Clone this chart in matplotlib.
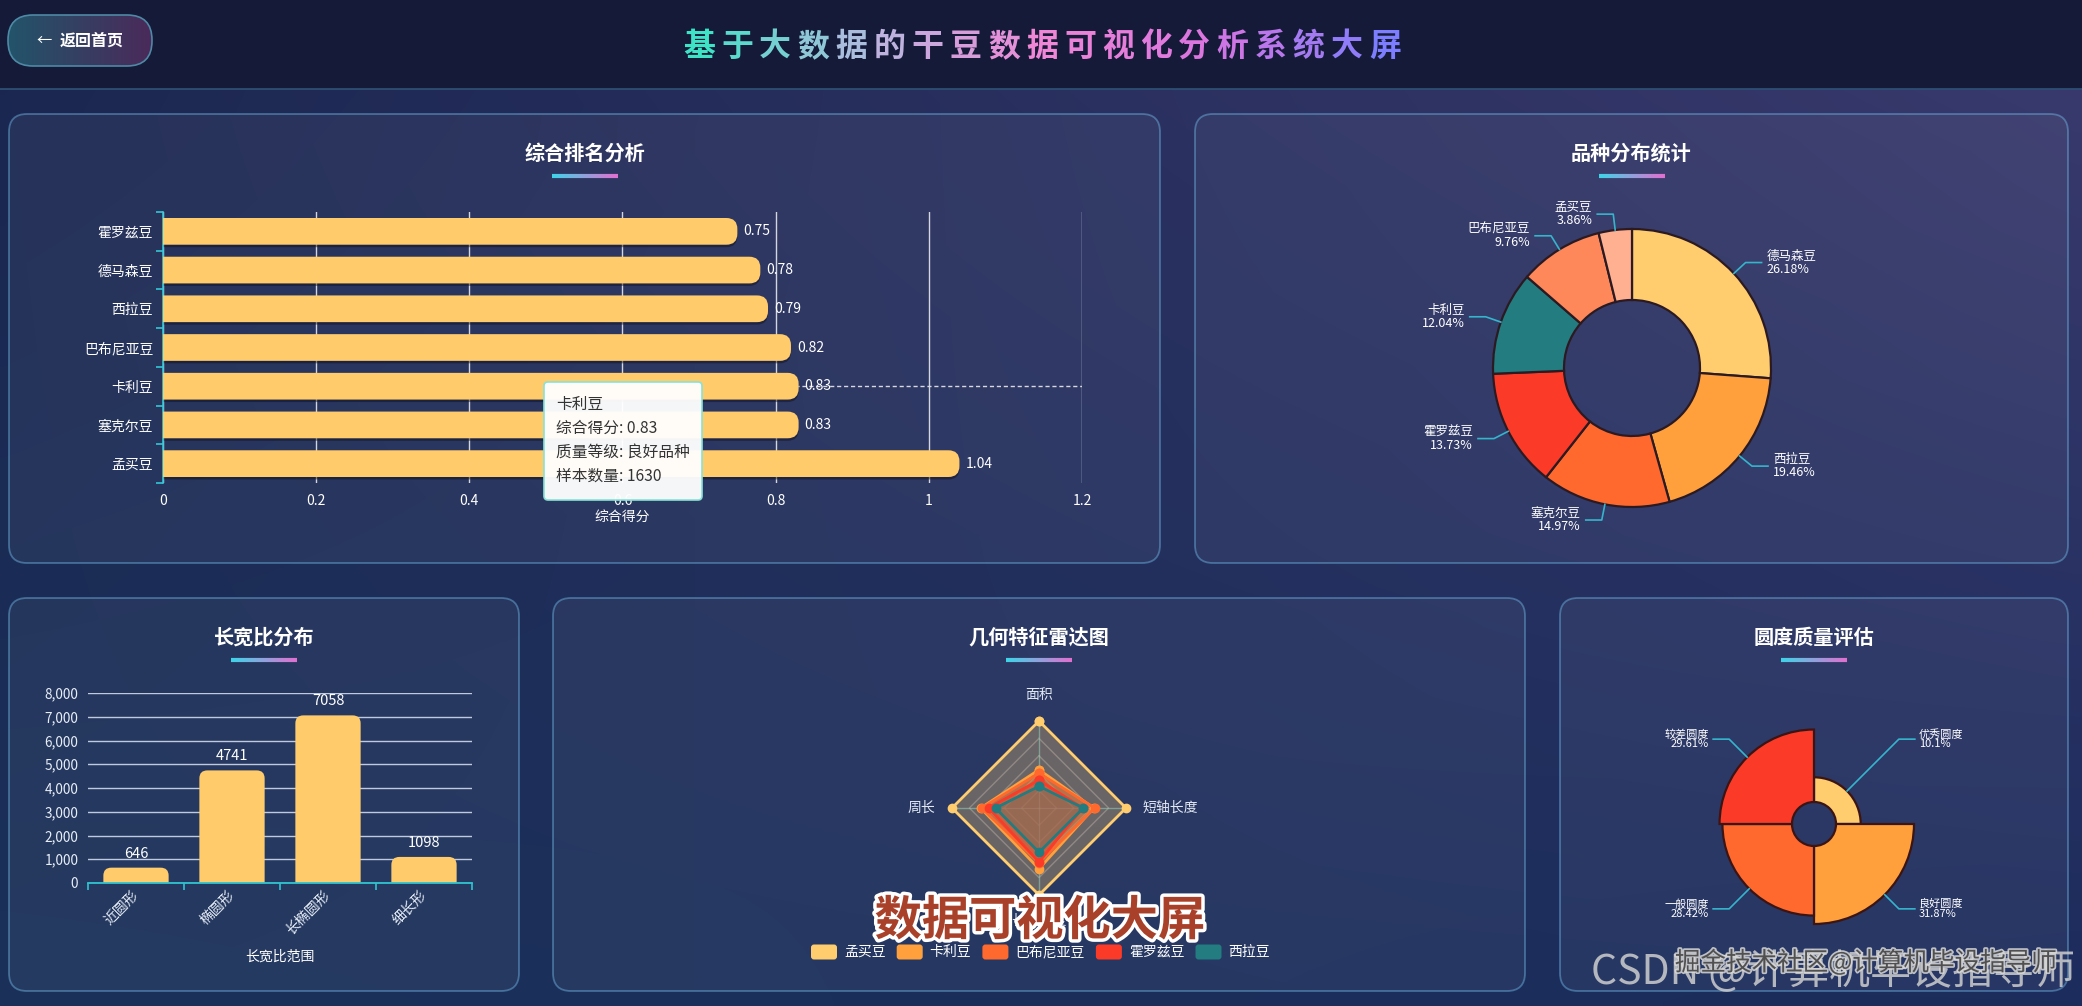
import numpy as np
import matplotlib
matplotlib.use('Agg')
import matplotlib.pyplot as plt
from matplotlib.patches import FancyBboxPatch, Wedge, Rectangle
from matplotlib.collections import LineCollection
from matplotlib.colors import LinearSegmentedColormap, to_rgb
import matplotlib.patheffects as pe

plt.rcParams['font.family'] = ['Noto Sans CJK SC', 'DejaVu Sans']
plt.rcParams['axes.unicode_minus'] = False

# ---------------- data ----------------
main_title = '基于大数据的干豆数据可视化分析系统大屏'
back_label = '返回首页'

rank_title = '综合排名分析'
rank_varieties = ['霍罗兹豆', '德马森豆', '西拉豆', '巴布尼亚豆', '卡利豆', '塞克尔豆', '孟买豆']
rank_scores = [0.75, 0.78, 0.79, 0.82, 0.83, 0.83, 1.04]
rank_xticks = [0, 0.2, 0.4, 0.6, 0.8, 1, 1.2]
rank_xlabel = '综合得分'
tooltip_lines = ['卡利豆', '综合得分: 0.83', '质量等级: 良好品种', '样本数量: 1630']
tooltip_index = 4

dist_title = '品种分布统计'
dist_names = ['德马森豆', '西拉豆', '塞克尔豆', '霍罗兹豆', '卡利豆', '巴布尼亚豆', '孟买豆']
dist_pct = [26.18, 19.46, 14.97, 13.73, 12.04, 9.76, 3.86]
dist_colors = ['#FFCC6E', '#FFA03C', '#FF692D', '#FB3A28', '#237C80', '#FF885A', '#FFB091']

ratio_title = '长宽比分布'
ratio_cats = ['近圆形', '椭圆形', '长椭圆形', '细长形']
ratio_counts = [646, 4741, 7058, 1098]
ratio_yticks = [0, 1000, 2000, 3000, 4000, 5000, 6000, 7000, 8000]
ratio_xlabel = '长宽比范围'

radar_title = '几何特征雷达图'
radar_indicators = ['面积', '周长', '长轴长度', '短轴长度']
radar_names = ['孟买豆', '卡利豆', '巴布尼亚豆', '霍罗兹豆', '西拉豆']
radar_mengmai = [1.00, 1.00, 1.00, 1.00]
radar_kali = [0.44, 0.67, 0.70, 0.63]
radar_babuniya = [0.40, 0.66, 0.63, 0.64]
radar_huoluozi = [0.32, 0.58, 0.62, 0.50]
radar_xila = [0.25, 0.50, 0.51, 0.51]
radar_colors = ['#FFCC6E', '#FFA03C', '#FF692D', '#FB3A28', '#237C80']

round_title = '圆度质量评估'
round_names = ['优秀圆度', '良好圆度', '一般圆度', '较差圆度']
round_pct = [10.1, 31.87, 28.42, 29.61]
round_colors = ['#FFCC6E', '#FFA03C', '#FF692D', '#FB3A28']

overlay_caption = '数据可视化大屏'
wm_csdn = 'CSDN @计算机毕设指导师'
wm_juejin = '掘金技术社区@计算机毕设指导师'

# ---------------- layout helpers ----------------
W, H = 2082, 1006
fig = plt.figure(figsize=(W / 100, H / 100), dpi=100)
fig.patch.set_facecolor('#141a37')


def rect(x0, y0, x1, y1):
    return [x0 / W, 1 - y1 / H, (x1 - x0) / W, (y1 - y0) / H]


bg = fig.add_axes([0, 0, 1, 1])
bg.set_xlim(0, W)
bg.set_ylim(H, 0)
bg.axis('off')

# body gradient
ny, nx = 120, 240
yy, xx = np.mgrid[0:1:ny * 1j, 0:1:nx * 1j]
TL, TR, BL, BR = [np.array(to_rgb(c)) for c in ['#1b2650', '#3b3a6e', '#1a3159', '#1c2c5c']]
img = (TL * ((1 - xx) * (1 - yy))[..., None] + TR * (xx * (1 - yy))[..., None]
       + BL * ((1 - xx) * yy)[..., None] + BR * (xx * yy)[..., None])
bg.imshow(img, extent=[0, W, H, 0], aspect='auto', zorder=0, interpolation='bilinear')

# header
bg.add_patch(Rectangle((0, 0), W, 89, fc='#141a37', ec='none', zorder=1))
bg.plot([0, W], [89, 89], color='#2e4f72', lw=1.3, zorder=2)

# back button
btn = FancyBboxPatch((8, 15), 144, 51, boxstyle='round,pad=0,rounding_size=25',
                     fc='none', ec='#4e89a5', lw=1.2, zorder=4)
bg.add_patch(btn)
gx = np.linspace(0, 1, 100)[None, :, None]
bimg = np.array(to_rgb('#22546a')) * (1 - gx) + np.array(to_rgb('#4a2a5a')) * gx
bim = bg.imshow(np.repeat(bimg, 2, axis=0), extent=[8, 152, 66, 15], aspect='auto', zorder=3)
bim.set_clip_path(btn)
bg.text(44, 40, '←', ha='center', va='center', fontsize=11, color='white', zorder=5)
bg.text(60, 40.5, back_label, ha='left', va='center', fontsize=11.5, color='white',
        fontweight='bold', zorder=5)

# main title with per-character gradient
tcmap = LinearSegmentedColormap.from_list('t', ['#3ee3c6', '#b9b8e0', '#ef86d6', '#d874e0', '#7c7eff'])
n_chars = len(main_title)
step = 38.1
x_start = 680
for i, ch in enumerate(main_title):
    bg.text(x_start + step * (i + 0.5), 47, ch, ha='center', va='center', fontsize=23,
            fontweight='bold', color=tcmap(i / (n_chars - 1)), zorder=5)

# panels
panels = [(9, 114, 1160, 563), (1195, 114, 2068, 563), (9, 598, 519, 991),
          (553, 598, 1525, 991), (1560, 598, 2068, 991)]
ptitles = [rank_title, dist_title, ratio_title, radar_title, round_title]
ucmap = LinearSegmentedColormap.from_list('u', ['#3fd3e8', '#e070d0'])
for (x0, y0, x1, y1), t in zip(panels, ptitles):
    bg.add_patch(FancyBboxPatch((x0, y0), x1 - x0, y1 - y0,
                                boxstyle='round,pad=0,rounding_size=18',
                                fc=(1, 1, 1, 0.05), ec=(0.42, 0.68, 0.85, 0.5), lw=1.3, zorder=2))
    cx = (x0 + x1) / 2
    bg.text(cx, y0 + 39, t, ha='center', va='center', fontsize=14.5, fontweight='bold',
            color='white', zorder=5)
    xs = np.linspace(cx - 33, cx + 33, 40)
    segs = [[(xs[k], y0 + 62), (xs[k + 1], y0 + 62)] for k in range(len(xs) - 1)]
    bg.add_collection(LineCollection(segs, colors=ucmap(np.linspace(0, 1, len(segs))),
                                     linewidths=3, zorder=5))

# ---------------- panel 1: ranking bars ----------------
ax1 = fig.add_axes(rect(163, 212, 1082, 483))
ax1.set_facecolor('none')
n = len(rank_varieties)
ax1.set_xlim(rank_xticks[0], rank_xticks[-1])
ax1.set_ylim(n - 0.5, -0.5)
pxx = (1082 - 163) / (rank_xticks[-1] - rank_xticks[0])
pxy = (483 - 212) / n
bh = 0.69
rad = 11
ma = pxx / pxy
ax1.axhline(tooltip_index, color='#d8d8e0', lw=1, ls=(0, (3, 2)), zorder=1.6)
for i, v in enumerate(rank_scores):
    ax1.add_patch(FancyBboxPatch((-0.05, i - bh / 2 + 2.5 / pxy), v + 0.05, bh,
                                 boxstyle=f'round,pad=0,rounding_size={rad / pxx}',
                                 mutation_aspect=ma, fc=(0.05, 0.05, 0.1, 0.45), ec='none', zorder=2))
    ax1.add_patch(FancyBboxPatch((-0.05, i - bh / 2), v + 0.05, bh,
                                 boxstyle=f'round,pad=0,rounding_size={rad / pxx}',
                                 mutation_aspect=ma, fc='#FFCB6B', ec='none', zorder=3))
    ax1.text(v + 6 / pxx, i, f'{v:.2f}', ha='left', va='center', fontsize=10, color='white', zorder=4)
ax1.set_yticks(range(n))
ax1.set_yticklabels(rank_varieties)
ax1.set_yticks(np.arange(-0.5, n, 1), minor=True)
ax1.set_xticks(rank_xticks)
ax1.set_xticklabels([f'{t:g}' for t in rank_xticks])
ax1.grid(axis='x', color='white', lw=1, alpha=0.8)
ax1.tick_params(axis='y', which='major', length=0, labelsize=10, labelcolor='white', pad=7)
ax1.tick_params(axis='y', which='minor', length=5, color='#33c6d6', width=1.2)
ax1.tick_params(axis='x', length=0, labelsize=10, labelcolor='white', pad=8)
for s in ['top', 'right', 'bottom']:
    ax1.spines[s].set_visible(False)
ax1.spines['left'].set_color('#33c6d6')
ax1.spines['left'].set_linewidth(1.2)
ax1.set_xlabel(rank_xlabel, color='white', fontsize=10)
ax1.xaxis.set_label_coords(0.5, -(517 - 483) / (483 - 212))
ax1.xaxis.label.set_va('center')

# ---------------- panel 2: donut ----------------
cx2, cy2 = 1632, 368
ax2 = fig.add_axes(rect(cx2 - 200, cy2 - 200, cx2 + 200, cy2 + 200))
R2, w2 = 139, 71
wedges, _ = ax2.pie(dist_pct, radius=R2, startangle=90, counterclock=False, colors=dist_colors,
                    wedgeprops=dict(width=w2, edgecolor='#2b1a22', linewidth=1.6))
ax2.set_xlim(-200, 200)
ax2.set_ylim(-200, 200)
ax2.set_aspect('equal')
ax2.axis('off')
for wd, name, p in zip(wedges, dist_names, dist_pct):
    ang = np.deg2rad((wd.theta1 + wd.theta2) / 2)
    c, s = np.cos(ang), np.sin(ang)
    sgn = 1 if c >= 0 else -1
    p0 = (R2 * c, R2 * s)
    p1 = ((R2 + 16) * c, (R2 + 16) * s)
    p2 = (p1[0] + 16 * sgn, p1[1])
    ax2.plot([p0[0], p1[0], p2[0]], [p0[1], p1[1], p2[1]], color='#35b5cc', lw=1.2, clip_on=False)
    ax2.text(p2[0] + 5 * sgn, p2[1], f'{name}\n{p}%', ha='left' if sgn > 0 else 'right',
             va='center', fontsize=9, color='white', linespacing=1.0)

# ---------------- panel 3: aspect ratio bars ----------------
ax3 = fig.add_axes(rect(88, 693, 472, 883))
ax3.set_facecolor('none')
m = len(ratio_cats)
ax3.set_xlim(-0.5, m - 0.5)
ax3.set_ylim(ratio_yticks[0], ratio_yticks[-1])
ux = (472 - 88) / m
uy = (883 - 693) / (ratio_yticks[-1] - ratio_yticks[0])
bw = 0.68
rad3 = 8
yr = rad3 / uy
for i, v in enumerate(ratio_counts):
    ax3.add_patch(FancyBboxPatch((i - bw / 2, -yr), bw, v + yr,
                                 boxstyle=f'round,pad=0,rounding_size={rad3 / ux}',
                                 mutation_aspect=ux / uy, fc='#FFCB6B', ec='none', zorder=3))
    ax3.annotate(str(v), (i, v), xytext=(0, 5), textcoords='offset points', ha='center',
                 va='bottom', fontsize=10.5, color='white')
ax3.set_yticks(ratio_yticks)
ax3.set_yticklabels([f'{t:,}' for t in ratio_yticks])
ax3.set_xticks(range(m))
ax3.set_xticklabels(ratio_cats, rotation=45, ha='right', va='center', rotation_mode='anchor')
ax3.set_xticks(np.arange(-0.5, m, 1), minor=True)
ax3.grid(axis='y', color='#dbe5f5', lw=1, alpha=0.85)
ax3.tick_params(axis='y', length=0, labelsize=9.8, labelcolor='#e8eef8', pad=7)
ax3.tick_params(axis='x', which='major', length=0, labelsize=10, labelcolor='#e8eef8', pad=7)
ax3.tick_params(axis='x', which='minor', length=5, color='#2ec4d0', width=1.2)
for s in ['top', 'right', 'left']:
    ax3.spines[s].set_visible(False)
ax3.spines['bottom'].set_color('#2ec4d0')
ax3.spines['bottom'].set_linewidth(1.3)
ax3.spines['bottom'].set_zorder(4)
ax3.set_xlabel(ratio_xlabel, color='white', fontsize=10)
ax3.xaxis.set_label_coords(0.5, -(957 - 883) / (883 - 693))
ax3.xaxis.label.set_va('center')

# ---------------- panel 4: radar ----------------
cx4, cy4, R4 = 1039, 808, 87
ax4 = fig.add_axes(rect(cx4 - R4, cy4 - R4, cx4 + R4, cy4 + R4), projection='polar')
ax4.set_ylim(0, 1)
ax4.axis('off')
angles = np.deg2rad([90, 180, 270, 360])
th = np.r_[angles, angles[0]]
for lev in [0.2, 0.4, 0.6, 0.8, 1.0]:
    ax4.plot(th, [lev] * 5, color=(0.78, 0.8, 0.86, 0.35), lw=1, zorder=1)
for a in angles:
    ax4.plot([a, a], [0, 1], color='#62d3dc', alpha=0.55, lw=1, zorder=1)
radar_values = [radar_mengmai, radar_kali, radar_babuniya, radar_huoluozi, radar_xila]
for vals, col in zip(radar_values, radar_colors):
    r = np.r_[vals, vals[0]]
    ax4.fill(th, r, color=col, alpha=0.3, lw=0, zorder=2)
    ax4.plot(th, r, color=col, lw=2, marker='o', ms=6, zorder=3, clip_on=False)
label_r = [1.3, 1.19, 1.3, 1.19]
for a, lab, lr in zip(angles, radar_indicators, label_r):
    c = np.cos(a)
    ha = 'center' if abs(c) < 0.1 else ('left' if c > 0 else 'right')
    ax4.text(a, lr, lab, ha=ha, va='center', fontsize=10, color='#e2e8f2')

# legend
lx, ly = 811, 952
for name, col in zip(radar_names, radar_colors):
    bg.add_patch(FancyBboxPatch((lx, ly - 7.5), 26, 15, boxstyle='round,pad=0,rounding_size=3',
                                fc=col, ec='none', zorder=4))
    bg.text(lx + 33, ly, name, ha='left', va='center', fontsize=10, color='white', zorder=4)
    lx += 33 + len(name) * 13.9 + 11

# ---------------- panel 5: rose ----------------
cx5, cy5 = 1814, 824
ax5 = fig.add_axes(rect(cx5 - 130, cy5 - 130, cx5 + 130, cy5 + 130))
ax5.set_xlim(-130, 130)
ax5.set_ylim(-130, 130)
ax5.set_aspect('equal')
ax5.axis('off')
r0, R5 = 22, 100
vmax = max(round_pct)
for i, (name, v, col) in enumerate(zip(round_names, round_pct, round_colors)):
    t2 = 90 - 90 * i
    t1 = t2 - 90
    rv = r0 + (R5 - r0) * v / vmax
    ax5.add_patch(Wedge((0, 0), rv, t1, t2, width=rv - r0, fc=col, ec='#3b1414', lw=1.6))
    ang = np.deg2rad((t1 + t2) / 2)
    c, s = np.cos(ang), np.sin(ang)
    sgn = 1 if c >= 0 else -1
    p0 = (rv * c, rv * s)
    p1 = ((R5 + 20) * c, (R5 + 20) * s)
    p2 = (p1[0] + 16 * sgn, p1[1])
    ax5.plot([p0[0], p1[0], p2[0]], [p0[1], p1[1], p2[1]], color='#35b5cc', lw=1.2, clip_on=False)
    ax5.text(p2[0] + 4 * sgn, p2[1], f'{name}\n{v}%', ha='left' if sgn > 0 else 'right',
             va='center', fontsize=8, color='white', linespacing=0.95)

# ---------------- overlay: tooltip & watermarks ----------------
ov = fig.add_axes([0, 0, 1, 1])
ov.set_xlim(0, W)
ov.set_ylim(H, 0)
ov.axis('off')
ov.patch.set_alpha(0)
ov.add_patch(FancyBboxPatch((544, 382), 158, 118, boxstyle='round,pad=0,rounding_size=4',
                            fc=(1, 1, 1, 0.96), ec='#86e3d6', lw=1.2))
for k, line in enumerate(tooltip_lines):
    ov.text(556, 404 + 24 * k, line, ha='left', va='center', fontsize=11.3, color='#333333')

ov.text(1040, 921, overlay_caption, ha='center', va='center', fontsize=34, fontweight='bold',
        color='#a8402a', path_effects=[pe.withStroke(linewidth=5, foreground='white')])
ov.text(2075, 972, wm_csdn, ha='right', va='center', fontsize=29.5, color='#cfcfcf', alpha=0.85)
ov.text(2056, 963, wm_juejin, ha='right', va='center', fontsize=18.4, color='#3c3c3c', alpha=0.85,
        path_effects=[pe.withStroke(linewidth=2.5, foreground=(0.85, 0.85, 0.85, 0.7))])

fig.savefig('out.png', dpi=100, facecolor=fig.get_facecolor())
